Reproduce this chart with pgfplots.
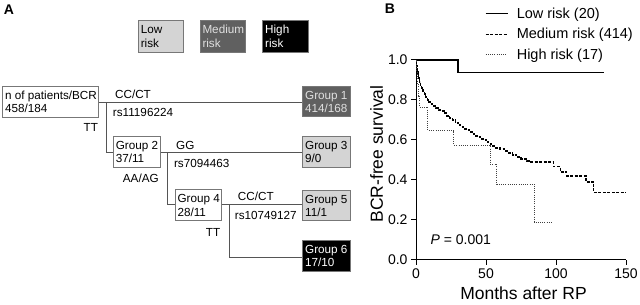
\documentclass[border=0pt]{standalone}
\usepackage{fontspec}
\setmainfont{Liberation Sans}
\usepackage{pgfplots}
\pgfplotsset{compat=1.18}
\definecolor{lowc}{HTML}{D4D4D4}
\definecolor{medc}{HTML}{606060}
\definecolor{linec}{HTML}{555555}
\definecolor{bordc}{HTML}{777777}
\newcommand\bt[5]{%
  \node[tr,anchor=base west,text=#5] at ({#1+2.3},{#2-13.3}) {#3};
  \node[tr,anchor=base west,text=#5] at ({#1+2.3},{#2-27.0}) {#4};}
\begin{document}
\begin{tikzpicture}[x=1pt,y=1pt,
  tr/.style={font=\fontsize{11.7}{13.5}\selectfont, inner sep=0pt},
  bx/.style={draw=bordc, line width=0.8pt},
  ln/.style={draw=linec, line width=0.8pt}]
\useasboundingbox (0,0) rectangle (640,305);
% panel letters
\node[font=\bfseries\fontsize{14}{14}\selectfont, inner sep=0pt] at (9,295) {A};
\node[font=\bfseries\fontsize{14}{14}\selectfont, inner sep=0pt] at (390,296.5) {B};
% risk legend boxes
\draw[bx, fill=lowc] (138.3,252.3) rectangle (183.3,284.3);
\bt{138.3}{284.3}{Low}{risk}{black}
\draw[bx, fill=medc] (200,252.3) rectangle (245.5,284.3);
\bt{200}{284.3}{Medium}{risk}{black!12}
\draw[bx, fill=black] (262.7,252.3) rectangle (308.3,284.3);
\bt{262.7}{284.3}{High}{risk}{white}
% tree lines
\draw[ln] (98.3,202.5) -- (302.7,202.5);
\draw[ln] (106,202.5) -- (106,152.5) -- (113.3,152.5);
\draw[ln] (160,152.5) -- (302.7,152.5);
\draw[ln] (167.7,152.5) -- (167.7,100.5) -- (175,100.5);
\draw[ln] (221.7,100.5) -- (302.7,100.5);
\draw[ln] (229.3,100.5) -- (229.3,47.5) -- (302.7,47.5);
% tree boxes
\draw[bx, fill=white] (2.7,187.7) rectangle (98.3,219);
\bt{2.7}{219}{n of patients/BCR}{458/184}{black}
\draw[bx, fill=medc] (302.7,189) rectangle (350,219);
\bt{302.7}{219}{Group 1}{414/168}{black!12}
\draw[bx, fill=white] (113.3,137.3) rectangle (160,169);
\bt{113.3}{169}{Group 2}{37/11}{black}
\draw[bx, fill=lowc] (302.7,137.7) rectangle (350,169);
\bt{302.7}{169}{Group 3}{9/0}{black}
\draw[bx, fill=white] (175,84.3) rectangle (221.7,115.7);
\bt{175}{115.7}{Group 4}{28/11}{black}
\draw[bx, fill=lowc] (302.7,84.3) rectangle (350,115);
\bt{302.7}{115}{Group 5}{11/1}{black}
\draw[bx, fill=black] (302.7,33.3) rectangle (350,65);
\bt{302.7}{65}{Group 6}{17/10}{white}
% tree labels
\node[tr] at (133,210.3) {CC/CT};
\node[tr] at (143,192.2) {rs11196224};
\node[tr] at (90.8,177.5) {TT};
\node[tr] at (185.3,160) {GG};
\node[tr] at (201.7,141.2) {rs7094463};
\node[tr] at (140.8,127) {AA/AG};
\node[tr] at (255.8,108.3) {CC/CT};
\node[tr] at (265.8,90) {rs10749127};
\node[tr] at (213,73) {TT};
% KM plot
\begin{axis}[at={(416pt,45pt)}, anchor=south west, scale only axis,
  width=210pt, height=200pt,
  xmin=0, xmax=150, ymin=0, ymax=1,
  axis x line=bottom, axis y line=left,
  axis line style={-, line width=1pt, black},
  tick align=outside, major tick length=5pt,
  every tick/.style={black, line width=1pt},
  xtick={0,50,100,150}, ytick={0,0.2,0.4,0.6,0.8,1},
  yticklabel style={/pgf/number format/.cd, fixed, fixed zerofill, precision=1},
  tick label style={font=\fontsize{14}{14}\selectfont},
  /pgf/number format/assume math mode=true,
  clip=false,
  legend style={at={(axis description cs:0.3276,1.2715)}, anchor=north west,
    draw=none, fill=none, inner sep=0pt,
    font=\fontsize{14.5}{17}\selectfont, row sep=4.3pt,
    /tikz/every odd column/.append style={column sep=6.5pt}},
  legend cell align=left,
  legend image code/.code={\draw[#1] (0pt,0pt) -- (22pt,0pt);},
]
\addplot[const plot, black, line width=1.1pt] coordinates {
(0,1) (30,0.937) (134,0.937)};
\addlegendentry{Low risk (20)}
\addplot[const plot, black, line width=1.3pt, dash pattern=on 3pt off 1.5pt] coordinates {
(0,1.0) (0.5,0.97) (1,0.95) (1.5,0.93) (2,0.91) (2.5,0.89) (3,0.875)
(4,0.86) (5,0.845) (6,0.83) (7,0.815) (8,0.80) (9,0.79) (10,0.78)
(12,0.77) (14,0.76) (16,0.75) (18,0.745) (20,0.735) (22,0.72) (24,0.71)
(26,0.70) (28,0.685) (30,0.675) (32,0.665) (34,0.655) (36,0.65) (38,0.64)
(40,0.63) (42,0.62) (44,0.615) (46,0.605) (48,0.60) (50,0.59) (52,0.58)
(54,0.57) (56,0.56) (60,0.555) (63,0.545) (66,0.535) (69,0.525) (72,0.515)
(75,0.505) (79,0.495) (81,0.49) (98,0.467) (103,0.44) (107.5,0.42)
(121.5,0.39) (127,0.337) (150,0.337)};
\addlegendentry{Medium risk (414)}
\addplot[const plot, black!75, line width=0.9pt, dash pattern=on 1pt off 1.2pt] coordinates {
(0,1) (0.5,0.94) (1,0.88) (1.5,0.82) (2.5,0.765) (8.5,0.647) (27,0.575)
(53,0.48) (57.6,0.38) (84.5,0.19) (97,0.19)};
\addlegendentry{High risk (17)}
\node[font=\fontsize{14}{14}\selectfont, anchor=base] at (axis cs:32,0.075) {\textit{P} = 0.001};
\end{axis}
\node[font=\fontsize{17.5}{17.5}\selectfont, rotate=90] at (376.5,151) {BCR-free survival};
\node[font=\fontsize{17.5}{17.5}\selectfont, anchor=base] at (523.5,5.5) {Months after RP};
\end{tikzpicture}
\end{document}
